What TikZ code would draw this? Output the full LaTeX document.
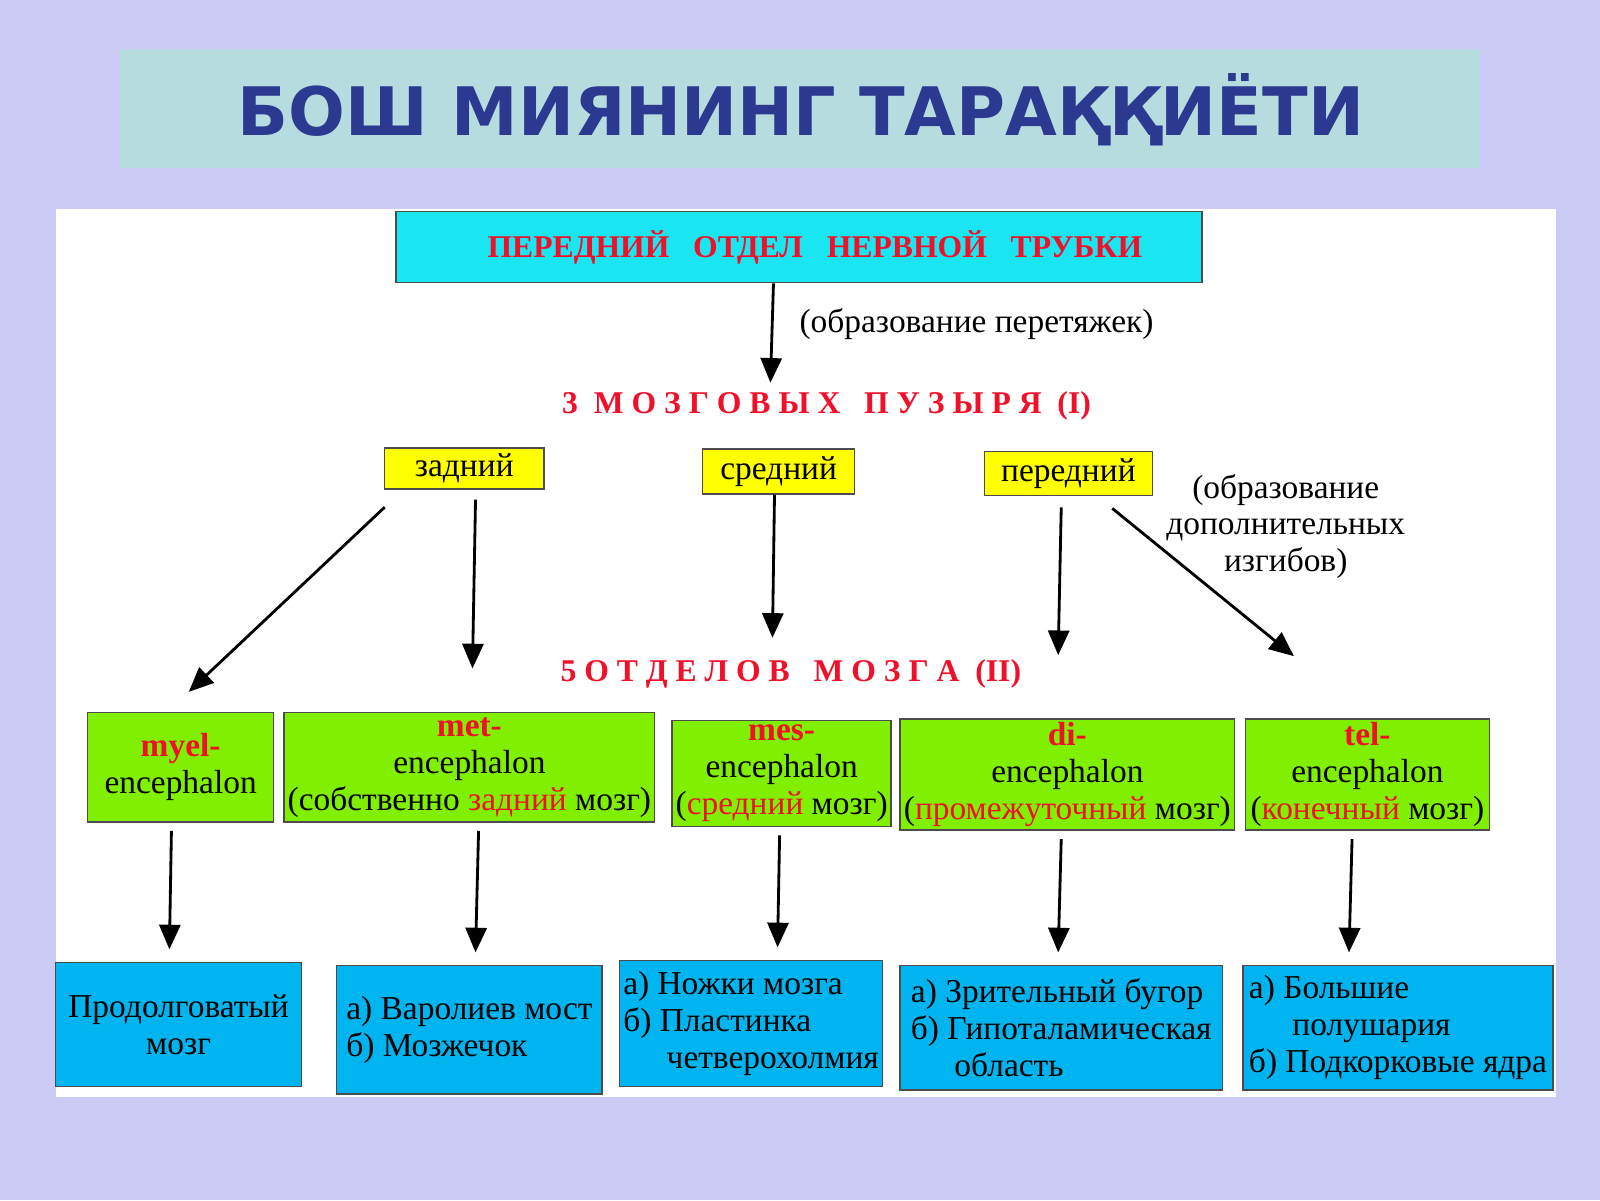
\documentclass[tikz,border=0pt]{standalone}
\usepackage{fontspec}
\setmainfont{Liberation Serif}
\newfontfamily\titlefont{DejaVu Sans Bold}
\usetikzlibrary{arrows.meta,calc}
\definecolor{bgcol}{HTML}{CBCBF6}
\definecolor{bandcol}{HTML}{B6DCE0}
\definecolor{titlecol}{HTML}{2B3990}
\definecolor{cyancol}{HTML}{19E6F0}
\definecolor{yelcol}{HTML}{FFFF00}
\definecolor{grncol}{HTML}{80F000}
\definecolor{bluecol}{HTML}{00B4F0}
\definecolor{redcol}{HTML}{F0102A}
\begin{document}
\begin{tikzpicture}[x=0.0102cm,y=-0.0102cm,font=\fontsize{9.5}{10.5}\selectfont]
	\tikzset{>={Triangle[length=7pt,width=6pt]},
	box/.style n args={3}{draw=black!70,fill=#1,inner sep=1pt,
		minimum width=#2*0.0102cm,minimum height=#3*0.0102cm},
	arr/.style={->,thick},
	rd/.style={text=redcol,font=\fontsize{9}{10}\selectfont\bfseries},
	lst/.style={font=\fontsize{9.5}{10.5}\selectfont}}
\useasboundingbox (0,0) rectangle (1568,1176);
\fill[bgcol] (0,0) rectangle (1568,1176);
\fill[bandcol] (118,48) rectangle (1450,165);
\node[titlecol,font=\titlefont\fontsize{19}{22}\selectfont] (title) at (785,108) {БОШ МИЯНИНГ ТАРАҚҚИЁТИ};
\fill[white] (55,205) rectangle (1525,1075);

% top box and bubbles
\node[box={cyancol}{790}{70},rd] (tube) at (783,242) {\hspace*{1em}ПЕРЕДНИЙ \ \ ОТДЕЛ \ \ НЕРВНОЙ \ \ ТРУБКИ};
\coordinate (c3) at (755,375);
\draw[arr] (tube.south -| 758,0) -- (c3);
\node (constr) at (957,318) {(образование перетяжек)};
\node[rd] (three) at (810,398) {3 \ М О З Г О В Ы Х \ \ П У З Ы Р Я \ (I)};

\node[box={yelcol}{156}{40}] (zad) at (455,459) {задний};
\node[box={yelcol}{149}{44}] (sred) at (763,462) {средний};
\node[box={yelcol}{165}{43}] (per) at (1047,464) {передний};
\node[align=center] (bends) at (1260,516) {(образование\\дополнительных\\изгибов)};

\coordinate (a1) at (185,678);
\coordinate (a2) at (463,655);
\coordinate (a3) at (757,625);
\coordinate (a4) at (1037,642);
\coordinate (a5) at (1268,643);
\draw[arr] (377,497) -- (a1);
\draw[arr] (zad.south -| 466,0) ++(0,10) -- (a2);
\draw[arr] (sred.south -| 759,0) -- (a3);
\draw[arr] (per.south -| 1040,0) ++(0,11) -- (a4);
\draw[arr] (per.south -| 1090,0) ++(0,12) -- (a5);

\node[rd] (five) at (775,660) {5 О Т Д Е Л О В \ \ М О З Г А \ (II)};

% five parts
\node[box={grncol}{182}{107},align=center] (myel) at (177,752) {{\color{redcol}\bfseries myel-}\\encephalon};
\node[box={grncol}{361}{107},align=center] (met) at (460,752) {{\color{redcol}\bfseries met-}\\encephalon\\(собственно {\color{redcol}задний} мозг)};
\node[box={grncol}{205}{104},align=center] (mes) at (766,758) {{\color{redcol}\bfseries mes-}\\encephalon\\({\color{redcol}средний} мозг)};
\node[box={grncol}{328}{106},align=center] (di) at (1046,759) {{\color{redcol}\bfseries di-}\\encephalon\\({\color{redcol}промежуточный} мозг)};
\node[box={grncol}{239}{106},align=center] (tel) at (1340,759) {{\color{redcol}\bfseries tel-}\\encephalon\\({\color{redcol}конечный} мозг)};

% final structures
\node[box={bluecol}{241}{122},align=center,lst] (med) at (175,1004) {Продолговатый\\мозг};
\node[box={bluecol}{260}{126},align=left,lst] (pons) at (460,1009) {а) Варолиев мост\\б) Мозжечок};
\node[box={bluecol}{253}{124},align=left,lst] (legs) at (736,1003) {а) Ножки мозга\\б) Пластинка\\\hspace*{1.3em}четверохолмия};
\node[box={bluecol}{316}{122},align=left,lst] (thal) at (1040,1007) {а) Зрительный бугор\\б) Гипоталамическая\\\hspace*{1.3em}область};
\node[box={bluecol}{304}{122},align=left,lst] (hemi) at (1370,1007) {а) Большие\\\hspace*{1.3em}полушария\\б) Подкорковые ядра};

\foreach \from/\to/\xa/\xb in {myel/med/168/166,met/pons/469/466,mes/legs/764/762,di/thal/1040/1037,tel/hemi/1325/1322}
	\draw[arr] (\from.south -| \xa,0) ++(0,8) -- ($(\to.north -| \xb,0)+(0,-12)$);
\end{tikzpicture}
\end{document}
